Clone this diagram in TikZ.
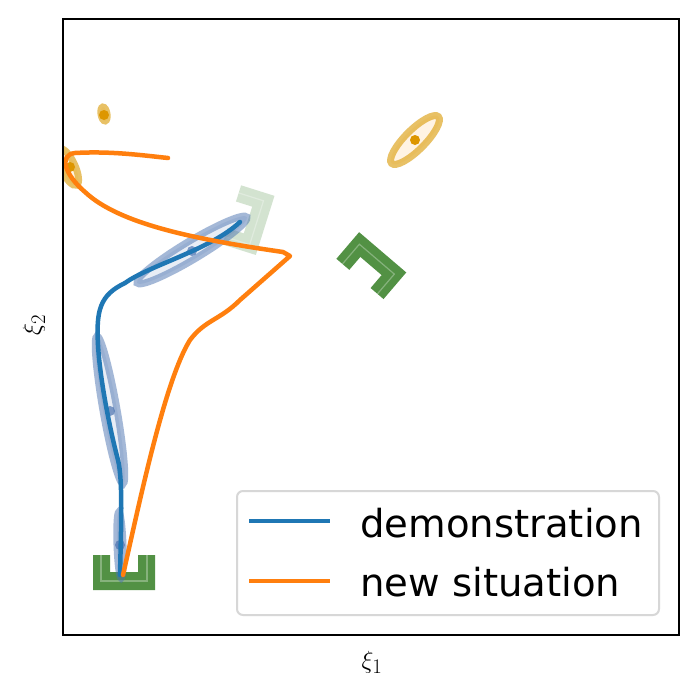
\documentclass[tikz,border=0pt]{standalone}
\usepackage{fontspec}
\setmainfont{DejaVu Sans}
\begin{document}
\begin{tikzpicture}[x=1pt,y=-1pt,
  demo/.style={draw={rgb,255:red,31;green,119;blue,180},line width=4.5pt,line cap=round},
  newsit/.style={draw={rgb,255:red,255;green,127;blue,14},line width=4.5pt,line cap=round,line join=round},
  bell/.style={draw={rgb,255:red,74;green,114;blue,176},draw opacity=0.5,line width=7pt,fill={rgb,255:red,74;green,114;blue,176},fill opacity=0.12},
  oell/.style={draw={rgb,255:red,221;green,161;blue,20},draw opacity=0.65,line width=7pt,fill={rgb,255:red,255;green,180;blue,80},fill opacity=0.15},
  bdot/.style={fill={rgb,255:red,74;green,114;blue,176},fill opacity=0.7},
  odot/.style={fill={rgb,255:red,221;green,150;blue,0}},
  ushape/.style={fill={rgb,255:red,82;green,145;blue,68}},
  uinner/.style={draw=white,draw opacity=0.3,line width=1.2pt}]
\useasboundingbox (0,0) rectangle (699,699);
\fill[white] (0,0) rectangle (699,699);
\newcommand{\ushapepath}{(-31,-17) -- (-14,-17) -- (-14,0) -- (14,0) -- (14,-17) -- (31,-17) -- (31,18) -- (-31,18) -- cycle}
\newcommand{\uinnerpath}{(-23,-17) -- (-23,9) -- (23,9) -- (23,-17)}
% green U shapes
\begin{scope}[shift={(124,572)}]
 \fill[ushape] \ushapepath; \draw[uinner] \uinnerpath;
\end{scope}
\begin{scope}[shift={(371,266)},rotate=139.5]
 \fill[ushape] \ushapepath; \draw[uinner] \uinnerpath;
\end{scope}
\begin{scope}[shift={(248,220)},rotate=72.5,opacity=0.25]
 \fill[ushape] \ushapepath; \draw[uinner] \uinnerpath;
\end{scope}
\begin{scope}
\clip (63,19) rectangle (679,635);
% ellipses
\draw[bell] (192,250) ellipse[x radius=64,y radius=9,rotate=31];
\draw[bell] (110,410) ellipse[x radius=75,y radius=7,rotate=-80];
\draw[bell] (120,545) ellipse[x radius=33,y radius=3,rotate=-88];
\draw[oell] (104,114) ellipse[x radius=7,y radius=3,rotate=-80];
\draw[oell] (68,167) ellipse[x radius=20,y radius=7,rotate=-65];
\draw[oell] (415,140) ellipse[x radius=33,y radius=10,rotate=45];
\fill[bdot] (192,251) circle (5); \fill[bdot] (110,411) circle (5); \fill[bdot] (120,545) circle (5);
\fill[odot] (104,115) circle (5); \fill[odot] (70,167) circle (5); \fill[odot] (415,140) circle (5);
% trajectories
\coordinate (d0) at (120,575);
\coordinate (d1) at (240,222);
\draw[demo] (d0) .. controls (121,530) and (123,480) .. (118,460)
  .. controls (110,430) and (100,380) .. (98,345)
  .. controls (96,310) and (100,295) .. (125,283)
  .. controls (150,265) and (210,250) .. (d1);
\coordinate (n0) at (123,575);
\coordinate (n1) at (168,158);
\draw[newsit] (n0) .. controls (140,500) and (165,380) .. (190,340)
  .. controls (205,320) and (220,320) .. (240,300)
  -- (290,256) -- (283,252)
  .. controls (200,240) and (120,225) .. (85,192)
  .. controls (65,175) and (58,155) .. (75,153)
  .. controls (110,151) and (140,155) .. (n1);
\end{scope}
\draw[line width=2pt] (63,19) rectangle (679,635);
% legend
\node[draw={rgb,255:red,215;green,215;blue,215},line width=2pt,rounded corners=6pt,fill=white,minimum width=422pt,minimum height=124pt] (leg) at (448,553) {};
\coordinate (l1a) at (249,521); \coordinate (l1b) at (330,521);
\coordinate (l2a) at (249,581); \coordinate (l2b) at (330,581);
\draw[demo,line cap=butt] (l1a) -- (l1b);
\draw[newsit,line cap=butt] (l2a) -- (l2b);
\node[anchor=west,font=\fontsize{38.6}{44}\selectfont,inner sep=0] (t1) at (360,523) {demonstration};
\node[anchor=west,font=\fontsize{38.6}{44}\selectfont,inner sep=0] (t2) at (360,582) {new situation};
\node[font=\fontsize{28}{32}\selectfont] (xl) at (372,662) {$\xi_1$};
\node[font=\fontsize{28}{32}\selectfont,rotate=90] (yl) at (34,325) {$\xi_2$};
\end{tikzpicture}
\end{document}
